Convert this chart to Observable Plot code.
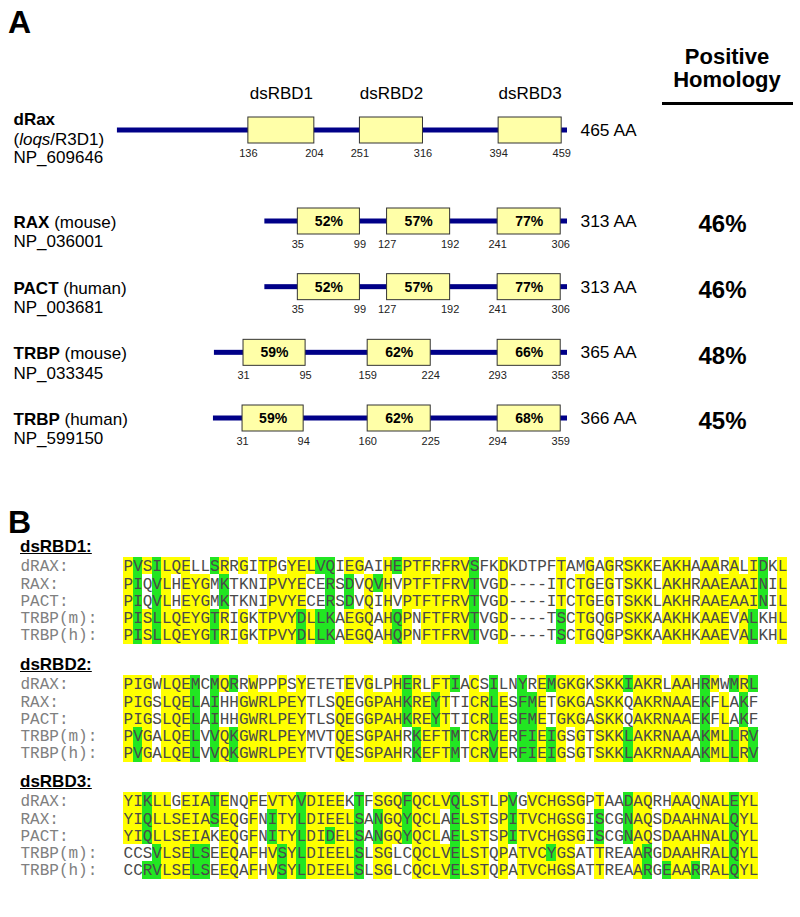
<!DOCTYPE html>
<html><head><meta charset="utf-8">
<script src="https://cdn.jsdelivr.net/npm/d3@7"></script>
<script src="https://cdn.jsdelivr.net/npm/@observablehq/plot@0.6"></script>
<style>
body{margin:0;background:#fff;}
#fig{position:relative;width:800px;height:917px;overflow:hidden;background:#fff;font-family:"Liberation Sans",Arial,sans-serif;}
.lbl{position:absolute;white-space:nowrap;line-height:1;color:#000;}
</style></head><body><div id="fig"></div>
<script>
// ---------------- Panel A data ----------------
const rowIds = ["dRax", "RAX (mouse)", "PACT (human)", "TRBP (mouse)", "TRBP (human)"];
const subLabels = ["(loqs/R3D1)", null, null, null, null];
const accessions = ["NP_609646", "NP_036001", "NP_003681", "NP_033345", "NP_599150"];
const lengthsAA = [465, 313, 313, 365, 366];
const domainNames = ["dsRBD1", "dsRBD2", "dsRBD3"];
const domainStarts = [[136, 251, 394], [35, 127, 241], [35, 127, 241], [31, 159, 293], [31, 160, 294]];
const domainEnds = [[204, 316, 459], [99, 192, 306], [99, 192, 306], [95, 224, 358], [94, 225, 359]];
const domainIdentity = [[null, null, null], [52, 57, 77], [52, 57, 77], [59, 62, 66], [59, 62, 68]];
const positiveHomology = [null, 46, 46, 48, 45];

// ---------------- Panel B data ----------------
const alignRows = ["dRAX", "RAX", "PACT", "TRBP(m)", "TRBP(h)"];
const blockTitles = ["dsRBD1:", "dsRBD2:", "dsRBD3:"];
const seqRBD1 = [
  "PVSILQELLSRRGITPGYELVQIEGAIHEPTFRFRVSFKDKDTPFTAMGAGRSKKEAKHAAARALIDKL",
  "PIQVLHEYGMKTKNIPVYECERSDVQVHVPTFTFRVTVGD----ITCTGEGTSKKLAKHRAAEAAINIL",
  "PIQVLHEYGMKTKNIPVYECERSDVQIHVPTFTFRVTVGD----ITCTGEGTSKKLAKHRAAEAAINIL",
  "PISLLQEYGTRIGKTPVYDLLKAEGQAHQPNFTFRVTVGD----TSCTGQGPSKKAAKHKAAEVALKHL",
  "PISLLQEYGTRIGKTPVYDLLKAEGQAHQPNFTFRVTVGD----TSCTGQGPSKKAAKHKAAEVALKHL"];
// y = identical (yellow), g = similar (green), . = none
const shadeRBD1 = [
  "ygygyyy..gy.y.yy.yyygg.yy..ygyyy.yyyg..y.....y..y.y.yyy.yyy.yy.y.yg.y",
  "yg.gy.yyy.g....yyyy..g.g.ygy.yyyyyyyg..y.....y.yy.y.yyy.yyy.yyyyyyg.y",
  "yg.gy.yyy.g....yyyy..g.g.y.y.yyyyyyyg..y.....y.yy.y.yyy.yyy.yyyyyyg.y",
  "ygygyyyyygy.y.yyyygygg.yyy.ygy.yyyyyg..y.....g.yy.y.yyy.yyy.yyy.yg..y",
  "ygygyyyyygy.y.yyyygygg.yyy.ygy.yyyyyg..y.....g.yy.y.yyy.yyy.yyy.yg..y"];
const seqRBD2 = [
  "PIGWLQEMCMQRRWPPPSYETETEVGLPHERLFTIACSILNYREMGKGKSKKIAKRLAAHRMWMRL",
  "PIGSLQELAIHHGWRLPEYTLSQEGGPAHKREYTTICRLESFMETGKGASKKQAKRNAAEKFLAKF",
  "PIGSLQELAIHHGWRLPEYTLSQEGGPAHKREYTTICRLESFMETGKGASKKQAKRNAAEKFLAKF",
  "PVGALQELVVQKGWRLPEYMVTQESGPAHRKEFTMTCRVERFIEIGSGTSKKLAKRNAAAKMLLRV",
  "PVGALQELVVQKGWRLPEYTVTQESGPAHRKEFTMTCRVERFIEIGSGTSKKLAKRNAAAKMLLRV"];
const shadeRBD2 = [
  "yyy.yyyg.gyg.y..y.y....y.y..ygy.yyg.y.g..g.ygyyy.yyygyyy.yy.gy.gyg",
  "yyy.yyyg.g..yyyyyyy...yy.yyyygyygy..yygy.ggy.yyy.yyy.yyyyyy.g.y.g.",
  "yyy.yyyg.g..yyyyyyy...yy.yyyygyygy..yygy.ggy.yyy.yyy.yyyyyy.g.y.g.",
  "ygy.yyyg.gygyyyyyyy...yy.yyyy.gyyyg.yygy.ggygy.y.yyygyyyyyy.gyygyg",
  "ygy.yyyg.gygyyyyyyy...yy.yyyy.gyyyg.yygy.ggygy.y.yyygyyyyyy.gyygyg"];
const seqRBD3 = [
  "YIKLLGEIATENQFEVTYVDIEEKTFSGQFQCLVQLSTLPVGVCHGSGPTAADAQRHAAQNALEYL",
  "YIQLLSEIASEQGFNITYLDIEELSANGQYQCLAELSTSPITVCHGSGISCGNAQSDAAHNALQYL",
  "YIQLLSEIAKEQGFNITYLDIDELSANGQYQCLAELSTSPITVCHGSGISCGNAQSDAAHNALQYL",
  "CCSVLSELSEEQAFHVSYLDIEELSLSGLCQCLVELSTQPATVCYGSATTREAARGDAAHRALQYL",
  "CCRVLSELSEEQAFHVSYLDIEELSLSGLCQCLVELSTQPATVCHGSATTREAARGEAARRALQYL"];
const shadeRBD3 = [
  "yygyy.yyygy..y.yyygyyyy.g.yyygyyyygyyy.yg.yyyyyy.y..gyy..yy.yyygyy",
  "yygyyyyyygyy.y.gyygyyyyyg.gyygyyy.gyyy.ygyyyyyyy.g..gyy.yyyyyyygyy",
  "yygyyyyyy.yy.y.gyygyygyyg.gyygyyy.gyyy.ygyyyyyyy.g..gyy.yyyyyyygyy",
  "...gyyygg.yy.y.ygygyyyyyg.yy..yyyygyyy.y.yyygyy..y...yg.yyyy.yygyy",
  "..ggyyygg.yy.y.ygygyyyyyg.yy..yyyygyyy.y.yyyyyy..y...yg.gyyg.yygyy"];
const blocks = [[seqRBD1, shadeRBD1], [seqRBD2, shadeRBD2], [seqRBD3, shadeRBD3]];

// ---------------- layout ----------------
const fig = document.getElementById("fig");
const SANS = "Liberation Sans, Arial, sans-serif";
const MONO = "Liberation Mono, Courier New, monospace";
function place(svg, top) {
  svg.style.position = "absolute"; svg.style.left = "0px"; svg.style.top = top + "px";
  fig.appendChild(svg); return svg;
}
function label(text, o) {
  const d = document.createElement("div");
  d.className = "lbl"; d.textContent = text;
  d.style.fontSize = o.size + "px";
  d.style.fontWeight = o.weight || "normal";
  d.style.top = (o.baseline - 0.8465 * o.size) + "px";
  if (o.center != null) { d.style.left = (o.center - 150) + "px"; d.style.width = "300px"; d.style.textAlign = "center"; }
  else d.style.left = o.left + "px";
  if (o.underline) d.style.textDecoration = "underline";
  fig.appendChild(d); return d;
}
function styleMixed(svg) {
  d3.select(svg).selectAll("text").each(function () {
    const t = this.textContent;
    const m = t.match(/^(RAX|PACT|TRBP) (\(\w+\))$/);
    if (m) {
      this.textContent = "";
      d3.select(this).append("tspan").attr("font-weight", "bold").text(m[1]);
      d3.select(this).append("tspan").attr("font-weight", "normal").text(" " + m[2]);
    } else if (t === "(loqs/R3D1)") {
      this.textContent = "";
      const s = d3.select(this);
      s.append("tspan").text("(");
      s.append("tspan").attr("font-style", "italic").text("loqs");
      s.append("tspan").text("/R3D1)");
    }
  });
}

// Panel A tables
const rowsA = rowIds.map((id, i) => ({id, i, len: lengthsAA[i], sub: subLabels[i], acc: accessions[i], hom: positiveHomology[i]}));
const domsA = rowIds.flatMap((id, i) => domainStarts[i].map((s, j) => ({id, i, s, e: domainEnds[i][j], len: lengthsAA[i], pct: domainIdentity[i][j], name: domainNames[j]})));
const edgesA = domsA.flatMap(d => [{id: d.id, v: d.s, len: d.len}, {id: d.id, v: d.e, len: d.len}]);

const aaPx = 0.97, endX = 567;
function panelA(ids, top, height, centers, isRef) {
  const step = centers.length > 1 ? (centers[centers.length - 1] - centers[0]) / (centers.length - 1) : 66;
  const yr = [centers[0] - top - step / 2, centers[centers.length - 1] - top + step / 2];
  const rows = rowsA.filter(r => ids.includes(r.id));
  const doms = domsA.filter(r => ids.includes(r.id));
  const edges = edgesA.filter(r => ids.includes(r.id));
  const marks = [
    Plot.barX(rows, {x1: d => 1 - d.len, x2: 0, y: "id", fill: "#000088", insetTop: (step - 5) / 2, insetBottom: (step - 5) / 2}),
    Plot.barX(doms, {x1: d => d.s - d.len, x2: d => d.e - d.len, y: "id", fill: "#ffffa8", stroke: "#333", strokeWidth: 1, insetTop: (step - 26) / 2, insetBottom: (step - 26) / 2}),
    Plot.text(doms.filter(d => d.pct != null), {x: d => (d.s + d.e) / 2 - d.len, y: "id", text: d => d.pct + "%", fontWeight: "bold", fontSize: 14, fill: "#000"}),
    Plot.text(edges, {x: d => d.v - d.len, y: "id", text: d => String(d.v), fontSize: 11, fill: "#222", dy: 22.5}),
    Plot.text(rows, {x: 0, y: "id", text: d => d.len + " AA", dx: 13, textAnchor: "start", fontSize: 17.4, fill: "#000"}),
    Plot.text(rows.filter(d => d.hom != null), {y: "id", text: d => d.hom + "%", frameAnchor: "right", textAnchor: "end", fontSize: 24, fontWeight: "bold", fill: "#000", dy: 3})
  ];
  if (isRef) {
    marks.push(
      Plot.text(doms, {x: d => (d.s + d.e) / 2 - d.len, y: "id", text: "name", fontSize: 17, fill: "#000", dy: -37}),
      Plot.text(rows, {y: "id", text: "id", frameAnchor: "left", textAnchor: "start", fontSize: 17, fontWeight: "bold", fill: "#000", dy: -11}),
      Plot.text(rows, {y: "id", text: "sub", frameAnchor: "left", textAnchor: "start", fontSize: 17, fill: "#000", dy: 9}),
      Plot.text(rows, {y: "id", text: "acc", frameAnchor: "left", textAnchor: "start", fontSize: 17, fill: "#000", dy: 27.5})
    );
  } else {
    marks.push(
      Plot.text(rows, {y: "id", text: "id", frameAnchor: "left", textAnchor: "start", fontSize: 17, fill: "#000", dy: 1}),
      Plot.text(rows, {y: "id", text: "acc", frameAnchor: "left", textAnchor: "start", fontSize: 17, fill: "#000", dy: 20.5})
    );
  }
  const svg = Plot.plot({
    width: 800, height, marginTop: 0, marginBottom: 0, marginLeft: 13, marginRight: 54,
    style: {background: "transparent", overflow: "visible", fontFamily: SANS, color: "#000"},
    x: {domain: [-470, 0], range: [endX - 470 * aaPx, endX], axis: null},
    y: {type: "band", domain: ids, range: yr, padding: 0, round: false, axis: null},
    marks
  });
  styleMixed(svg);
  return place(svg, top);
}

panelA([rowIds[0]], 0, 175, [130], true);
panelA(rowIds.slice(1), 175, 290, [221, 287, 352, 418], false);

label("A", {left: 8, baseline: 33, size: 32, weight: "bold"});
label("Positive", {center: 727, baseline: 65, size: 22, weight: "bold"});
label("Homology", {center: 727, baseline: 88, size: 22, weight: "bold"});
const ul = document.createElement("div");
Object.assign(ul.style, {position: "absolute", left: "662px", top: "102px", width: "131px", height: "3px", background: "#000"});
fig.appendChild(ul);

// Panel B
label("B", {left: 8, baseline: 533, size: 32, weight: "bold"});
const colW = 9.62, seqX0 = 123, pitch = 17.3;
const firstRow = [566, 684, 801];
blocks.forEach(([seqs, shades], b) => {
  const n = seqs[0].length;
  const chars = [], cells = [];
  seqs.forEach((s, r) => {
    for (let c = 0; c < n; c++) {
      chars.push({row: alignRows[r], col: c + 1, ch: s[c]});
      const code = shades[r][c];
      if (code !== ".") cells.push({row: alignRows[r], col: c + 1, code});
    }
  });
  const top = firstRow[b] - pitch / 2 - 5;
  const svg = Plot.plot({
    width: 800, height: 5 * pitch + 10, margin: 0, marginLeft: 20,
    style: {background: "transparent", overflow: "visible", fontFamily: MONO},
    x: {type: "band", domain: d3.range(1, n + 1), range: [seqX0, seqX0 + n * colW], padding: 0, round: false, axis: null},
    y: {type: "band", domain: alignRows, range: [5, 5 + 5 * pitch], padding: 0, round: false, axis: null},
    marks: [
      Plot.cell(cells.filter(d => d.code === "y"), {x: "col", y: "row", fill: "#ffff00", inset: 0, shapeRendering: "crispEdges"}),
      Plot.cell(cells.filter(d => d.code === "g"), {x: "col", y: "row", fill: "#22e622", inset: 0, shapeRendering: "crispEdges"}),
      Plot.text(chars, {x: "col", y: "row", text: "ch", fontFamily: MONO, fontSize: 16, fill: "#4a4a4a"}),
      Plot.text(alignRows, {y: d => d, text: d => d + ":", frameAnchor: "left", textAnchor: "start", fontFamily: MONO, fontSize: 16, fill: "#808080"})
    ]
  });
  place(svg, top);
  label(blockTitles[b], {left: 20, baseline: firstRow[b] - 14, size: 17, weight: "bold", underline: true});
});
</script></body></html>
